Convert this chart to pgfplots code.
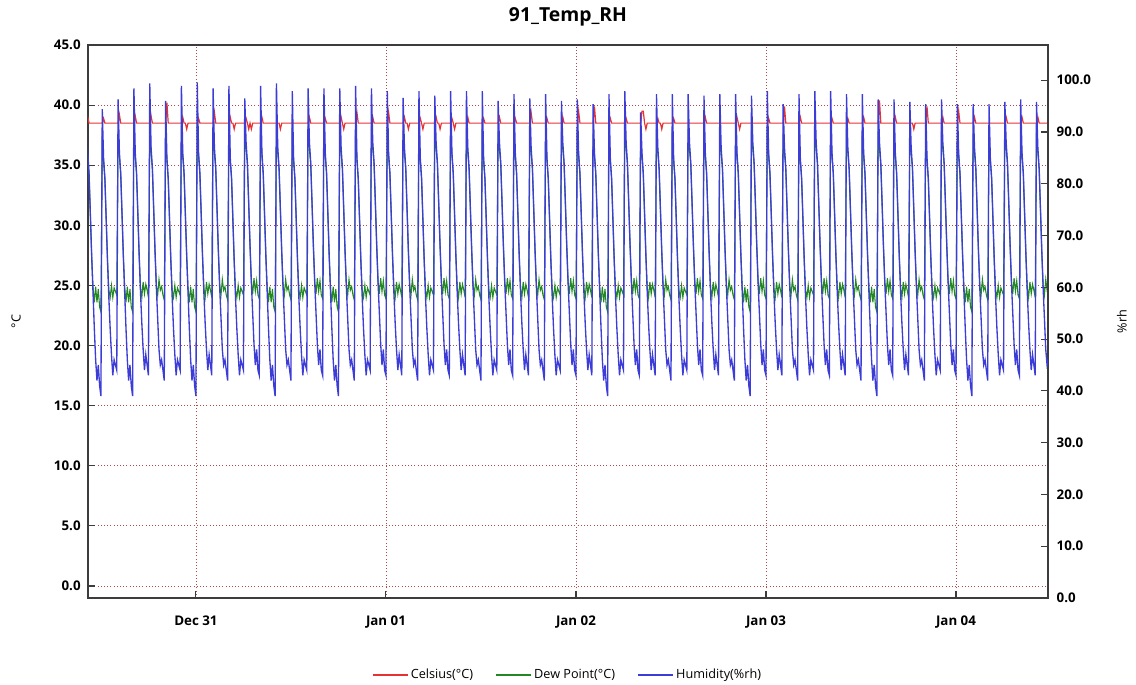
\documentclass[border=0pt]{standalone}
\usepackage{fontspec}
\setmainfont{Open Sans}
\usepackage{pgfplots}
\usepackage{pgfplotstable}
\pgfplotsset{compat=1.18}
\definecolor{cred}{RGB}{232,50,50}
\definecolor{cgreen}{RGB}{35,135,35}
\definecolor{cblue}{RGB}{60,60,215}
\definecolor{cgrid}{RGB}{175,75,75}
\definecolor{caxis}{RGB}{60,60,60}

% n = time in 10-minute steps from Dec 31 00:00
\pgfplotstableread{
n rh td c
-84 43 24.0 38.5
-83 94 37.4 38.5
-82 86 35.7 39.0
-81 82 34.3 38.5
-80 74 30.9 38.5
-79 66 27.4 38.5
-78 59 24.8 38.5
-77 52 23.6 38.5
-76 46 24.9 38.5
-75 42 23.6 38.5
-74 45 24.7 38.5
-73 41 23.2 38.5
-72 39 22.8 38.5
-71 94.4 37.4 38.5
-70 85 35.3 38.9
-69 81 33.9 38.5
-68 73 30.5 38.5
-67 65 27.0 38.5
-66 58 24.6 38.5
-65 52 24.0 38.5
-64 47 25.0 38.5
-63 43 24.0 38.5
-62 46 24.8 38.5
-61 45 24.5 38.5
-60 44 24.2 38.5
-59 96.3 37.8 38.5
-58 86 35.7 39.2
-57 82 34.3 38.5
-56 74 30.9 38.5
-55 66 27.4 38.5
-54 59 24.8 38.5
-53 52 23.6 38.5
-52 46 24.9 38.5
-51 42 23.6 38.5
-50 45 24.7 38.5
-49 41 23.2 38.5
-48 39 22.8 38.5
-47 98.4 38.2 38.5
-46 86 35.7 39.1
-45 82 34.3 38.5
-44 74 30.9 38.5
-43 66 27.4 38.5
-42 59 24.8 38.5
-41 53 24.0 38.5
-40 48 25.3 38.5
-39 44 24.3 38.5
-38 47 25.1 38.5
-37 45 24.6 38.5
-36 43 24.0 38.5
-35 99.4 38.4 38.5
-34 87 36.0 39.1
-33 83 34.7 38.5
-32 75 31.3 38.5
-31 67 27.8 38.5
-30 60 25.0 38.5
-29 54 24.2 38.5
-28 48 25.5 38.5
-27 45 24.6 38.5
-26 46 24.9 38.5
-25 44 24.2 38.5
-24 42 23.8 38.5
-23 96 37.8 38.5
-22 85 35.3 40.2
-21 81 33.9 38.5
-20 73 30.5 38.5
-19 65 27.0 38.5
-18 58 24.6 38.5
-17 52 24.0 38.5
-16 47 25.0 38.5
-15 43 24.0 38.5
-14 46 24.8 38.5
-13 45 24.5 38.5
-12 44 24.2 38.5
-11 98.9 38.3 38.5
-10 86 35.7 39.0
-9 82 34.3 38.5
-8 74 30.9 38.5
-7 66 27.4 38.0
-6 59 24.8 38.5
-5 52 23.6 38.5
-4 46 24.9 38.5
-3 42 23.6 38.5
-2 45 24.7 38.5
-1 41 23.2 38.5
0 39 22.8 38.5
1 99.6 38.4 38.5
2 86 35.7 38.9
3 82 34.3 38.5
4 74 30.9 38.5
5 66 27.4 38.5
6 59 24.8 38.5
7 53 24.0 38.5
8 48 25.3 38.5
9 44 24.3 38.5
10 47 25.1 38.5
11 45 24.6 38.5
12 43 24.0 38.5
13 98.4 38.2 38.5
14 87 36.0 39.4
15 83 34.7 38.5
16 75 31.3 38.5
17 67 27.8 38.5
18 60 25.0 38.5
19 54 24.2 38.5
20 48 25.5 38.5
21 45 24.6 38.5
22 46 24.9 38.5
23 44 24.2 38.5
24 42 23.8 38.5
25 98.9 38.3 38.5
26 85 35.3 39.0
27 81 33.9 38.5
28 73 30.5 38.5
29 65 27.0 38.0
30 58 24.6 38.5
31 52 24.0 38.5
32 47 25.0 38.5
33 43 24.0 38.5
34 46 24.8 38.5
35 45 24.5 38.5
36 44 24.2 38.5
37 96.5 37.8 38.5
38 88 36.3 38.9
39 84 35.1 38.5
40 76 31.8 38.0
41 68 28.3 38.5
42 61 25.3 38.0
43 55 24.3 38.5
44 49 25.6 38.5
45 45 24.5 38.5
46 48 25.4 38.5
47 44 24.2 38.5
48 43 23.9 38.5
49 98.9 38.3 38.5
50 86 35.7 39.0
51 82 34.3 38.5
52 74 30.9 38.5
53 66 27.4 38.5
54 59 24.8 38.5
55 52 23.6 38.5
56 46 24.9 38.5
57 42 23.6 38.5
58 45 24.7 38.5
59 41 23.2 38.5
60 39 22.8 38.5
61 99.4 38.4 38.5
62 87 36.0 38.5
63 83 34.7 38.5
64 75 31.3 38.0
65 67 27.8 38.5
66 60 25.0 38.5
67 54 24.2 38.5
68 48 25.5 38.5
69 45 24.6 38.5
70 46 24.9 38.5
71 44 24.2 38.5
72 42 23.8 38.5
73 97.9 38.1 38.5
74 85 35.3 38.5
75 81 33.9 38.5
76 73 30.5 38.5
77 65 27.0 38.5
78 58 24.6 38.5
79 52 24.0 38.5
80 47 25.0 38.5
81 43 24.0 38.5
82 46 24.8 38.5
83 45 24.5 38.5
84 44 24.2 38.5
85 98.4 38.2 38.5
86 88 36.3 39.0
87 84 35.1 38.5
88 76 31.8 38.5
89 68 28.3 38.5
90 61 25.3 38.5
91 55 24.3 38.5
92 49 25.6 38.5
93 45 24.5 38.5
94 48 25.4 38.5
95 44 24.2 38.5
96 43 23.9 38.5
97 98.4 38.2 38.5
98 86 35.7 38.9
99 82 34.3 38.5
100 74 30.9 38.5
101 66 27.4 38.5
102 59 24.8 38.5
103 52 23.6 38.5
104 46 24.9 38.5
105 42 23.6 38.5
106 45 24.7 38.5
107 41 23.2 38.5
108 39 22.8 38.5
109 98.4 38.2 38.5
110 87 36.0 39.0
111 83 34.7 38.5
112 75 31.3 38.0
113 67 27.8 38.5
114 60 25.0 38.5
115 54 24.2 38.5
116 48 25.5 38.5
117 45 24.6 38.5
118 46 24.9 38.5
119 44 24.2 38.5
120 42 23.8 38.5
121 98.9 38.3 38.5
122 85 35.3 39.4
123 81 33.9 38.5
124 73 30.5 38.5
125 65 27.0 38.5
126 58 24.6 38.5
127 52 24.0 38.5
128 47 25.0 38.5
129 43 24.0 38.5
130 46 24.8 38.5
131 45 24.5 38.5
132 44 24.2 38.5
133 98.4 38.2 38.5
134 88 36.3 39.0
135 84 35.1 38.5
136 76 31.8 38.5
137 68 28.3 38.5
138 61 25.3 38.5
139 55 24.3 38.5
140 49 25.6 38.5
141 45 24.5 38.5
142 48 25.4 38.5
143 44 24.2 38.5
144 43 23.9 38.5
145 97.9 38.1 38.5
146 86 35.7 39.4
147 82 34.3 38.5
148 74 30.9 38.5
149 66 27.4 38.5
150 59 24.8 38.5
151 53 24.0 38.5
152 48 25.3 38.5
153 44 24.3 38.5
154 47 25.1 38.5
155 45 24.6 38.5
156 43 24.0 38.5
157 96.6 37.9 38.5
158 87 36.0 39.0
159 83 34.7 38.5
160 75 31.3 38.5
161 67 27.8 38.0
162 60 25.0 38.5
163 54 24.2 38.5
164 48 25.5 38.5
165 45 24.6 38.5
166 46 24.9 38.5
167 44 24.2 38.5
168 42 23.8 38.5
169 97.9 38.1 38.5
170 85 35.3 38.9
171 81 33.9 38.5
172 73 30.5 38.0
173 65 27.0 38.5
174 58 24.6 38.5
175 52 24.0 38.5
176 47 25.0 38.5
177 43 24.0 38.5
178 46 24.8 38.5
179 45 24.5 38.5
180 44 24.2 38.5
181 97 37.9 38.5
182 88 36.3 39.0
183 84 35.1 38.5
184 76 31.8 38.5
185 68 28.3 38.0
186 61 25.3 38.5
187 55 24.3 38.5
188 49 25.6 38.5
189 45 24.5 38.5
190 48 25.4 38.5
191 44 24.2 38.5
192 43 23.9 38.5
193 97.9 38.1 38.5
194 86 35.7 38.9
195 82 34.3 38.5
196 74 30.9 38.0
197 66 27.4 38.5
198 59 24.8 38.5
199 53 24.0 38.5
200 48 25.3 38.5
201 44 24.3 38.5
202 47 25.1 38.5
203 45 24.6 38.5
204 43 24.0 38.5
205 97.9 38.1 38.5
206 87 36.0 39.0
207 83 34.7 38.5
208 75 31.3 38.5
209 67 27.8 38.5
210 60 25.0 38.5
211 54 24.2 38.5
212 48 25.5 38.5
213 45 24.6 38.5
214 46 24.9 38.5
215 44 24.2 38.5
216 42 23.8 38.5
217 97.9 38.1 38.5
218 85 35.3 38.9
219 81 33.9 38.5
220 73 30.5 38.5
221 65 27.0 38.5
222 58 24.6 38.5
223 52 24.0 38.5
224 47 25.0 38.5
225 43 24.0 38.5
226 46 24.8 38.5
227 45 24.5 38.5
228 44 24.2 38.5
229 96 37.8 38.5
230 88 36.3 39.0
231 84 35.1 38.5
232 76 31.8 38.5
233 68 28.3 38.5
234 61 25.3 38.5
235 55 24.3 38.5
236 49 25.6 38.5
237 45 24.5 38.5
238 48 25.4 38.5
239 44 24.2 38.5
240 43 23.9 38.5
241 97.3 38.0 38.5
242 86 35.7 38.9
243 82 34.3 38.5
244 74 30.9 38.5
245 66 27.4 38.5
246 59 24.8 38.5
247 53 24.0 38.5
248 48 25.3 38.5
249 44 24.3 38.5
250 47 25.1 38.5
251 45 24.6 38.5
252 43 24.0 38.5
253 96.5 37.8 38.5
254 87 36.0 39.4
255 83 34.7 38.5
256 75 31.3 38.5
257 67 27.8 38.5
258 60 25.0 38.5
259 54 24.2 38.5
260 48 25.5 38.5
261 45 24.6 38.5
262 46 24.9 38.5
263 44 24.2 38.5
264 42 23.8 38.5
265 97.3 38.0 38.5
266 85 35.3 38.9
267 81 33.9 38.5
268 73 30.5 38.5
269 65 27.0 38.5
270 58 24.6 38.5
271 52 24.0 38.5
272 47 25.0 38.5
273 43 24.0 38.5
274 46 24.8 38.5
275 45 24.5 38.5
276 44 24.2 38.5
277 96 37.8 38.5
278 88 36.3 39.0
279 84 35.1 38.5
280 76 31.8 38.5
281 68 28.3 38.5
282 61 25.3 38.5
283 55 24.3 38.5
284 49 25.6 38.5
285 45 24.5 38.5
286 48 25.4 38.5
287 44 24.2 38.5
288 43 23.9 38.5
289 96.3 37.8 38.5
290 86 35.7 39.5
291 82 34.3 38.5
292 74 30.9 38.5
293 66 27.4 38.5
294 59 24.8 38.5
295 53 24.0 38.5
296 48 25.3 38.5
297 44 24.3 38.5
298 47 25.1 38.5
299 45 24.6 38.5
300 43 24.0 38.5
301 95.4 37.6 38.5
302 86 35.7 39.9
303 82 34.3 38.5
304 74 30.9 38.5
305 66 27.4 38.5
306 59 24.8 38.5
307 52 23.6 38.5
308 46 24.9 38.5
309 42 23.6 38.5
310 45 24.7 38.5
311 41 23.2 38.5
312 39 22.8 38.5
313 97.3 38.0 38.5
314 85 35.3 38.9
315 81 33.9 38.5
316 73 30.5 38.5
317 65 27.0 38.5
318 58 24.6 38.5
319 52 24.0 38.5
320 47 25.0 38.5
321 43 24.0 38.5
322 46 24.8 38.5
323 45 24.5 38.5
324 44 24.2 38.5
325 97.9 38.1 38.5
326 88 36.3 38.9
327 84 35.1 38.5
328 76 31.8 38.5
329 68 28.3 38.5
330 61 25.3 38.5
331 55 24.3 38.5
332 49 25.6 38.5
333 45 24.5 38.5
334 48 25.4 38.5
335 44 24.2 38.5
336 43 23.9 38.5
337 93.8 37.3 38.5
338 86 35.7 39.5
339 82 34.3 39.5
340 74 30.9 38.5
341 66 27.4 38.0
342 59 24.8 38.5
343 53 24.0 38.5
344 48 25.3 38.5
345 44 24.3 38.5
346 47 25.1 38.5
347 45 24.6 38.5
348 43 24.0 38.5
349 97.3 38.0 38.5
350 87 36.0 38.9
351 83 34.7 38.5
352 75 31.3 38.5
353 67 27.8 38.0
354 60 25.0 38.5
355 54 24.2 38.5
356 48 25.5 38.5
357 45 24.6 38.5
358 46 24.9 38.5
359 44 24.2 38.5
360 42 23.8 38.5
361 97.3 38.0 38.5
362 85 35.3 38.9
363 81 33.9 38.5
364 73 30.5 38.5
365 65 27.0 38.5
366 58 24.6 38.5
367 52 24.0 38.5
368 47 25.0 38.5
369 43 24.0 38.5
370 46 24.8 38.5
371 45 24.5 38.5
372 44 24.2 38.5
373 97.3 38.0 38.5
374 88 36.3 38.5
375 84 35.1 38.5
376 76 31.8 38.5
377 68 28.3 38.5
378 61 25.3 38.5
379 55 24.3 38.5
380 49 25.6 38.5
381 45 24.5 38.5
382 48 25.4 38.5
383 44 24.2 38.5
384 43 23.9 38.5
385 97 37.9 38.5
386 86 35.7 39.0
387 82 34.3 38.5
388 74 30.9 38.5
389 66 27.4 38.5
390 59 24.8 38.5
391 53 24.0 38.5
392 48 25.3 38.5
393 44 24.3 38.5
394 47 25.1 38.5
395 45 24.6 38.5
396 43 24.0 38.5
397 97.3 38.0 38.5
398 87 36.0 38.5
399 83 34.7 38.5
400 75 31.3 38.5
401 67 27.8 38.5
402 60 25.0 38.5
403 54 24.2 38.5
404 48 25.5 38.5
405 45 24.6 38.5
406 46 24.9 38.5
407 44 24.2 38.5
408 42 23.8 38.5
409 97.3 38.0 38.5
410 86 35.7 39.0
411 82 34.3 38.5
412 74 30.9 38.0
413 66 27.4 38.5
414 59 24.8 38.5
415 52 23.6 38.5
416 46 24.9 38.5
417 42 23.6 38.5
418 45 24.7 38.5
419 41 23.2 38.5
420 39 22.8 38.5
421 97 37.9 38.5
422 88 36.3 38.5
423 84 35.1 38.5
424 76 31.8 38.5
425 68 28.3 38.5
426 61 25.3 38.5
427 55 24.3 38.5
428 49 25.6 38.5
429 45 24.5 38.5
430 48 25.4 38.5
431 44 24.2 38.5
432 43 23.9 38.5
433 97.9 38.1 38.5
434 86 35.7 38.9
435 82 34.3 38.5
436 74 30.9 38.5
437 66 27.4 38.5
438 59 24.8 38.5
439 53 24.0 38.5
440 48 25.3 38.5
441 44 24.3 38.5
442 47 25.1 38.5
443 45 24.6 38.5
444 43 24.0 38.5
445 95.4 37.6 38.5
446 87 36.0 39.9
447 83 34.7 38.5
448 75 31.3 38.5
449 67 27.8 38.5
450 60 25.0 38.5
451 54 24.2 38.5
452 48 25.5 38.5
453 45 24.6 38.5
454 46 24.9 38.5
455 44 24.2 38.5
456 42 23.8 38.5
457 97.3 38.0 38.5
458 85 35.3 39.0
459 81 33.9 38.5
460 73 30.5 38.5
461 65 27.0 38.5
462 58 24.6 38.5
463 52 24.0 38.5
464 47 25.0 38.5
465 43 24.0 38.5
466 46 24.8 38.5
467 45 24.5 38.5
468 44 24.2 38.5
469 97.9 38.1 38.5
470 88 36.3 38.5
471 84 35.1 38.5
472 76 31.8 38.5
473 68 28.3 38.5
474 61 25.3 38.5
475 55 24.3 38.5
476 49 25.6 38.5
477 45 24.5 38.5
478 48 25.4 38.5
479 44 24.2 38.5
480 43 23.9 38.5
481 97.9 38.1 38.5
482 86 35.7 38.9
483 82 34.3 38.5
484 74 30.9 38.5
485 66 27.4 38.5
486 59 24.8 38.5
487 53 24.0 38.5
488 48 25.3 38.5
489 44 24.3 38.5
490 47 25.1 38.5
491 45 24.6 38.5
492 43 24.0 38.5
493 97.3 38.0 38.5
494 87 36.0 38.9
495 83 34.7 38.5
496 75 31.3 38.5
497 67 27.8 38.5
498 60 25.0 38.5
499 54 24.2 38.5
500 48 25.5 38.5
501 45 24.6 38.5
502 46 24.9 38.5
503 44 24.2 38.5
504 42 23.8 38.5
505 97.3 38.0 38.5
506 86 35.7 39.0
507 82 34.3 38.5
508 74 30.9 38.5
509 66 27.4 38.5
510 59 24.8 38.5
511 52 23.6 38.5
512 46 24.9 38.5
513 42 23.6 38.5
514 45 24.7 38.5
515 41 23.2 38.5
516 39 22.8 38.5
517 96.3 37.8 38.5
518 88 36.3 40.4
519 84 35.1 38.5
520 76 31.8 38.5
521 68 28.3 38.5
522 61 25.3 38.5
523 55 24.3 38.5
524 49 25.6 38.5
525 45 24.5 38.5
526 48 25.4 38.5
527 44 24.2 38.5
528 43 23.9 38.5
529 96.3 37.8 38.5
530 86 35.7 39.0
531 82 34.3 38.5
532 74 30.9 38.5
533 66 27.4 38.5
534 59 24.8 38.5
535 53 24.0 38.5
536 48 25.3 38.5
537 44 24.3 38.5
538 47 25.1 38.5
539 45 24.6 38.5
540 43 24.0 38.5
541 95.8 37.7 38.5
542 87 36.0 38.5
543 83 34.7 38.5
544 75 31.3 38.0
545 67 27.8 38.5
546 60 25.0 38.5
547 54 24.2 38.5
548 48 25.5 38.5
549 45 24.6 38.5
550 46 24.9 38.5
551 44 24.2 38.5
552 42 23.8 38.5
553 95.4 37.6 38.5
554 85 35.3 39.9
555 81 33.9 38.5
556 73 30.5 38.5
557 65 27.0 38.5
558 58 24.6 38.5
559 52 24.0 38.5
560 47 25.0 38.5
561 43 24.0 38.5
562 46 24.8 38.5
563 45 24.5 38.5
564 44 24.2 38.5
565 96.3 37.8 38.5
566 88 36.3 39.0
567 84 35.1 38.5
568 76 31.8 38.5
569 68 28.3 38.5
570 61 25.3 38.5
571 55 24.3 38.5
572 49 25.6 38.5
573 45 24.5 38.5
574 48 25.4 38.5
575 44 24.2 38.5
576 43 23.9 38.5
577 95.4 37.6 38.5
578 86 35.7 39.5
579 82 34.3 38.5
580 74 30.9 38.5
581 66 27.4 38.5
582 59 24.8 38.5
583 52 23.6 38.5
584 46 24.9 38.5
585 42 23.6 38.5
586 45 24.7 38.5
587 41 23.2 38.5
588 39 22.8 38.5
589 95.4 37.6 38.5
590 87 36.0 39.0
591 83 34.7 38.5
592 75 31.3 38.5
593 67 27.8 38.5
594 60 25.0 38.5
595 54 24.2 38.5
596 48 25.5 38.5
597 45 24.6 38.5
598 46 24.9 38.5
599 44 24.2 38.5
600 42 23.8 38.5
601 95.4 37.6 38.5
602 85 35.3 38.5
603 81 33.9 38.5
604 73 30.5 38.5
605 65 27.0 38.5
606 58 24.6 38.5
607 52 24.0 38.5
608 47 25.0 38.5
609 43 24.0 38.5
610 46 24.8 38.5
611 45 24.5 38.5
612 44 24.2 38.5
613 95.8 37.7 38.5
614 88 36.3 39.0
615 84 35.1 38.5
616 76 31.8 38.5
617 68 28.3 38.5
618 61 25.3 38.5
619 55 24.3 38.5
620 49 25.6 38.5
621 45 24.5 38.5
622 48 25.4 38.5
623 44 24.2 38.5
624 43 23.9 38.5
625 96.3 37.8 38.5
626 86 35.7 39.0
627 82 34.3 38.5
628 74 30.9 38.5
629 66 27.4 38.5
630 59 24.8 38.5
631 53 24.0 38.5
632 48 25.3 38.5
633 44 24.3 38.5
634 47 25.1 38.5
635 45 24.6 38.5
636 43 24.0 38.5
637 95.8 37.7 38.5
638 87 36.0 39.0
639 83 34.7 38.5
640 75 31.3 38.5
641 67 27.8 38.5
642 60 25.0 38.5
643 54 24.2 38.5
644 48 25.5 38.5
645 45 24.6 38.5
646 46 24.9 38.5
647 44 24.2 38.5
648 42 23.8 38.5
}\data

\begin{document}
\begin{tikzpicture}
\pgfplotsset{
  base/.style={
    width=720pt, height=414.75pt, scale only axis,
    xmin=-81.8, xmax=645.7,
    axis line style={caxis, line width=1pt},
    tick style={caxis, line width=0.8pt},
    tick align=inside,
    major tick length=5pt,
    /pgf/number format/assume math mode=true,
    tick label style={font=\fontsize{10}{12}\selectfont\bfseries, text=black},
    yticklabel style={/pgf/number format/fixed, /pgf/number format/fixed zerofill, /pgf/number format/precision=1},
  }
}
\begin{axis}[base,
  ymin=-1, ymax=45,
  ytick={0,5,...,45},
  xtick={0,144,288,432,576},
  xticklabels={Dec 31,Jan 01,Jan 02,Jan 03,Jan 04},
  xtick pos=left, ytick pos=left,
  xticklabel style={yshift=-10pt},
  yticklabel style={xshift=-2pt},
  xmajorgrids, ymajorgrids,
  major grid style={cgrid, dash pattern=on 0.8pt off 1.6pt, line width=0.65pt},
  title={91\_Temp\_RH},
  title style={font=\fontsize{14.5}{17}\selectfont\bfseries, at={(0.5,1)}, anchor=center, yshift=15pt},
  ylabel={°C},
  ylabel style={at={(axis description cs:-0.075,0.5)}, anchor=center, font=\fontsize{9.5}{11}\selectfont},
  legend columns=3,
  legend style={at={(0.5,0)}, anchor=center, yshift=-57.75pt, draw=none, fill=none,
    font=\fontsize{9.5}{11}\selectfont,
    /tikz/every even column/.append style={column sep=15pt}},
  legend image code/.code={\draw[#1] (0pt,0pt) -- (26pt,0pt);},
]
\addplot[cred, line width=0.9pt] table[x=n, y=c] {\data};
\addlegendentry{Celsius(°C)}
\addplot[cgreen, line width=0.8pt] table[x=n, y=td] {\data};
\addlegendentry{Dew Point(°C)}
\addlegendimage{cblue, line width=0.9pt}
\addlegendentry{Humidity(\%rh)}
\end{axis}
\begin{axis}[base,
  ymin=0, ymax=106.8,
  ytick={0,10,...,100},
  axis y line*=right, axis x line=none,
  grid=none,
  yticklabel style={xshift=3pt},
  ylabel={\%rh},
  ylabel style={at={(axis description cs:1.077,0.5)}, anchor=center, font=\fontsize{9.5}{11}\selectfont},
]
\addplot[cblue, line width=1pt] table[x=n, y=rh] {\data};
\end{axis}
\pgfresetboundingbox
\path[use as bounding box] (-66pt,-65.25pt) rectangle (786pt,448.5pt);
\end{tikzpicture}
\end{document}
